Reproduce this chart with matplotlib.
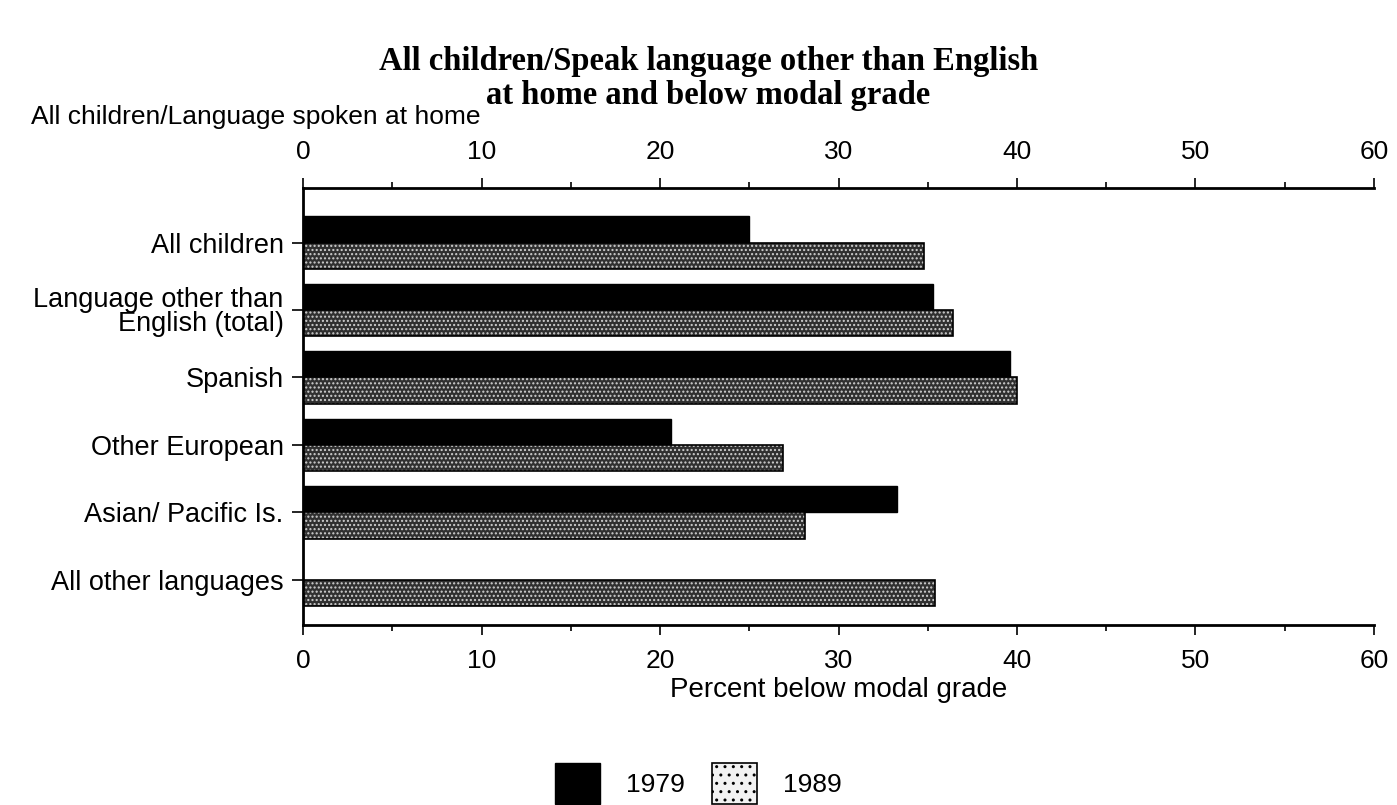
import matplotlib
matplotlib.use('Agg')
from matplotlib import pyplot as plt
from matplotlib.patches import Patch
import numpy as np

categorias = ['All children', 'Language other than\nEnglish (total)', 'Spanish',
              'Other European', 'Asian/ Pacific Is.', 'All other languages']
valores_1979 = [25.0, 35.3, 39.6, 20.6, 33.3, np.nan]
valores_1989 = [34.8, 36.4, 40.0, 26.9, 28.1, 35.4]
anios = ['1979', '1989']

plt.rcParams['font.family'] = ['Liberation Sans', 'DejaVu Sans']

fig = plt.figure(figsize=(13.97, 8.05), dpi=100)
ax = fig.add_axes([0.217, 0.2236, 0.7665, 0.543])

y = np.arange(len(categorias))
alto = 0.39

ax.barh(y - alto / 2, valores_1979, height=alto, color='black', edgecolor='black')
ax.barh(y + alto / 2, valores_1989, height=alto, color='#303030', edgecolor='#d0d0d0',
        hatch='....', linewidth=0)
ax.barh(y + alto / 2, valores_1989, height=alto, fill=False, edgecolor='black', linewidth=1.2)

ax.set_xlim(0, 60)
ax.set_ylim(5.67, -0.81)
ax.set_yticks(y)
ax.set_yticklabels(categorias, fontsize=19.5, linespacing=0.92)

ax.set_xticks(np.arange(0, 61, 10))
ax.set_xticks(np.arange(0, 61, 5), minor=True)
ax.tick_params(axis='x', which='major', length=7, width=1.2, labelsize=19, pad=10,
               top=True, labeltop=True)
ax.tick_params(axis='x', which='minor', length=4, width=1.2, top=True)
ax.tick_params(axis='y', length=8, width=1.2, pad=6)

ax.spines['right'].set_visible(False)
for lado in ['left', 'top', 'bottom']:
    ax.spines[lado].set_linewidth(2)

ax.set_xlabel('Percent below modal grade', fontsize=20, labelpad=3)

fig.text(0.022, 0.855, 'All children/Language spoken at home', fontsize=19,
         ha='left', va='center')
fig.text(0.507, 0.902, 'All children/Speak language other than English\nat home and below modal grade',
         fontsize=23.5, fontweight='bold', family=['Liberation Serif', 'DejaVu Serif'],
         ha='center', va='center', linespacing=1.12)

manejadores = [Patch(facecolor='black', edgecolor='black'),
               Patch(facecolor='#f2f2f2', edgecolor='black', hatch='..', linewidth=1.2)]
fig.legend(manejadores, anios, loc='center', bbox_to_anchor=(0.5, 0.027),
           ncol=2, frameon=False, fontsize=19, handlelength=1.7, handleheight=2.0,
           columnspacing=1.0, handletextpad=1.0)

plt.savefig('out.png', dpi=100)
